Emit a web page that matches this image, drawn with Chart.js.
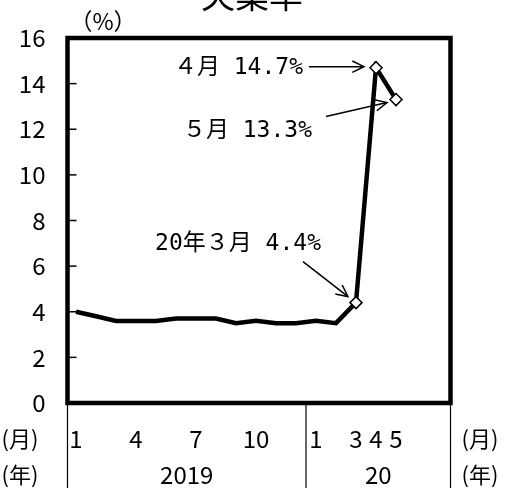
<!DOCTYPE html>
<html>
<head>
<meta charset="utf-8">
<script src="https://cdn.jsdelivr.net/npm/chart.js@4"></script>
<style>
	html, body { margin: 0; padding: 0; background: #fff; }
	#wrap { width: 506px; height: 488px; position: relative; }
</style>
</head>
<body>
<div id="wrap"><canvas id="mycanvas"></canvas></div>
<script>
// 失業率 2019年1月～2020年5月
var years = [2019, 2019, 2019, 2019, 2019, 2019, 2019, 2019, 2019, 2019, 2019, 2019, 2020, 2020, 2020, 2020, 2020];
var months = [1, 2, 3, 4, 5, 6, 7, 8, 9, 10, 11, 12, 1, 2, 3, 4, 5];
var rate = [4.0, 3.8, 3.6, 3.6, 3.6, 3.7, 3.7, 3.7, 3.5, 3.6, 3.5, 3.5, 3.6, 3.5, 4.4, 14.7, 13.3];
var monthTicks = [0, 3, 6, 9, 12, 14, 15, 16];
var yearLabels = ['2019', '20'];
var yTicks = [0, 2, 4, 6, 8, 10, 12, 14, 16];

var FONT = '"Noto Sans CJK JP", sans-serif';
var MONO = '"DejaVu Sans Mono", "Noto Sans CJK JP", monospace';
var CJK = '"Noto Sans CJK JP", sans-serif';

function zen(n) {
	return String(n).replace(/[0-9]/g, function(c) { return String.fromCharCode(c.charCodeAt(0) + 0xFEE0); });
}

// 注記（ラベル、矢印の始点・終点は点からの相対位置）
var notes = [
	{ i: 14, text: '20年' + zen(months[14]) + '月 ' + rate[14].toFixed(1) + '%', tx: -35, ty: -59, x0: -53, y0: -41, x1: -8, y1: -6 },
	{ i: 15, text: zen(months[15]) + '月 ' + rate[15].toFixed(1) + '%', tx: -73, ty: 0, x0: -67, y0: -1, x1: -12, y1: -1 },
	{ i: 16, text: zen(months[16]) + '月 ' + rate[16].toFixed(1) + '%', tx: -84, ty: 31, x0: -70, y0: 17, x1: -9, y1: 3 }
];

var points = [];
for (var i in rate) {
	points.push({ x: Number(i), y: rate[i] });
}

var decor = {
	id: 'decor',
	beforeDraw: function(chart) {
		var c = chart.ctx;
		c.save();
		c.fillStyle = '#fff';
		c.fillRect(0, 0, chart.width, chart.height);
		c.restore();
	},
	afterDraw: function(chart) {
		var c = chart.ctx, a = chart.chartArea;
		var xs = chart.scales.x, ys = chart.scales.y;
		c.save();

		// タイトル
		c.fillStyle = '#000';
		c.font = '34px ' + CJK;
		c.textAlign = 'center';
		c.textBaseline = 'alphabetic';
		c.fillText('失業率', 252, 8);

		c.font = '23px ' + CJK;
		c.fillText('（%）', 103, 30);

		// 枠
		c.strokeStyle = '#000';
		c.lineWidth = 4.5;
		c.strokeRect(a.left, a.top, a.right - a.left, a.bottom - a.top);

		// 目盛り（内向き）
		c.lineWidth = 1.5;
		yTicks.forEach(function(v) {
			var y = ys.getPixelForValue(v);
			c.beginPath();
			c.moveTo(a.left, y);
			c.lineTo(a.left + 9, y);
			c.stroke();
		});

		// 年の区切り線
		c.lineWidth = 1.2;
		var seps = [a.left, xs.getPixelForValue(11.5), a.right];
		seps.forEach(function(x) {
			c.beginPath();
			c.moveTo(x, a.bottom);
			c.lineTo(x, chart.height);
			c.stroke();
		});

		// 年ラベル
		c.font = '24px ' + FONT;
		c.textBaseline = 'middle';
		c.textAlign = 'center';
		c.fillText(yearLabels[0], (seps[0] + seps[1]) / 2, a.bottom + 72);
		c.fillText(yearLabels[1], (seps[1] + seps[2]) / 2, a.bottom + 72);

		c.font = '22px ' + CJK;
		c.fillText('(月)', 20, a.bottom + 36);
		c.fillText('(年)', 20, a.bottom + 72);
		c.fillText('(月)', 480, a.bottom + 36);
		c.fillText('(年)', 480, a.bottom + 72);

		// 注記と矢印
		c.font = '23px ' + MONO;
		c.lineWidth = 1.5;
		notes.forEach(function(n) {
			var px = xs.getPixelForValue(n.i), py = ys.getPixelForValue(rate[n.i]);
			c.textAlign = 'right';
			c.fillText(n.text, px + n.tx, py + n.ty);
			var sx = px + n.x0, sy = py + n.y0, ex = px + n.x1, ey = py + n.y1;
			var ang = Math.atan2(ey - sy, ex - sx);
			c.beginPath();
			c.moveTo(sx, sy);
			c.lineTo(ex, ey);
			c.moveTo(ex - 13 * Math.cos(ang - 0.45), ey - 13 * Math.sin(ang - 0.45));
			c.lineTo(ex, ey);
			c.lineTo(ex - 13 * Math.cos(ang + 0.45), ey - 13 * Math.sin(ang + 0.45));
			c.stroke();
		});
		c.restore();
	}
};

var radius = rate.map(function(v, k) { return k >= 14 ? 6 : 0; });

var ctx = document.getElementById('mycanvas');
var lineGraph = new Chart(ctx, {
	type: 'line',
	data: {
		datasets: [{
			label: '失業率',
			data: points,
			borderColor: '#000',
			borderWidth: 4.5,
			tension: 0,
			pointStyle: 'rectRot',
			pointRadius: radius,
			pointBackgroundColor: '#fff',
			pointBorderColor: '#000',
			pointBorderWidth: 1.5
		}]
	},
	options: {
		responsive: true,
		maintainAspectRatio: false,
		animation: false,
		layout: { padding: { top: 38, right: 55.5, left: 0, bottom: 0 } },
		plugins: { legend: { display: false }, tooltip: { enabled: false } },
		scales: {
			x: {
				type: 'linear',
				min: -0.425,
				max: 18.725,
				grid: { display: false },
				border: { display: false },
				afterBuildTicks: function(s) {
					s.ticks = monthTicks.map(function(v) { return { value: v }; });
				},
				afterFit: function(s) { s.height = 85; },
				ticks: {
					autoSkip: false,
					maxRotation: 0,
					padding: 13,
					color: '#000',
					font: { family: FONT, size: 24 },
					callback: function(v) { return String(months[v]); }
				}
			},
			y: {
				min: 0,
				max: 16,
				grid: { display: false },
				border: { display: false },
				afterBuildTicks: function(s) {
					s.ticks = yTicks.map(function(v) { return { value: v }; });
				},
				afterFit: function(s) { s.width = 67.5; },
				ticks: {
					padding: 14,
					color: '#000',
					font: { family: FONT, size: 24 }
				}
			}
		}
	},
	plugins: [decor]
});
</script>
</body>
</html>
